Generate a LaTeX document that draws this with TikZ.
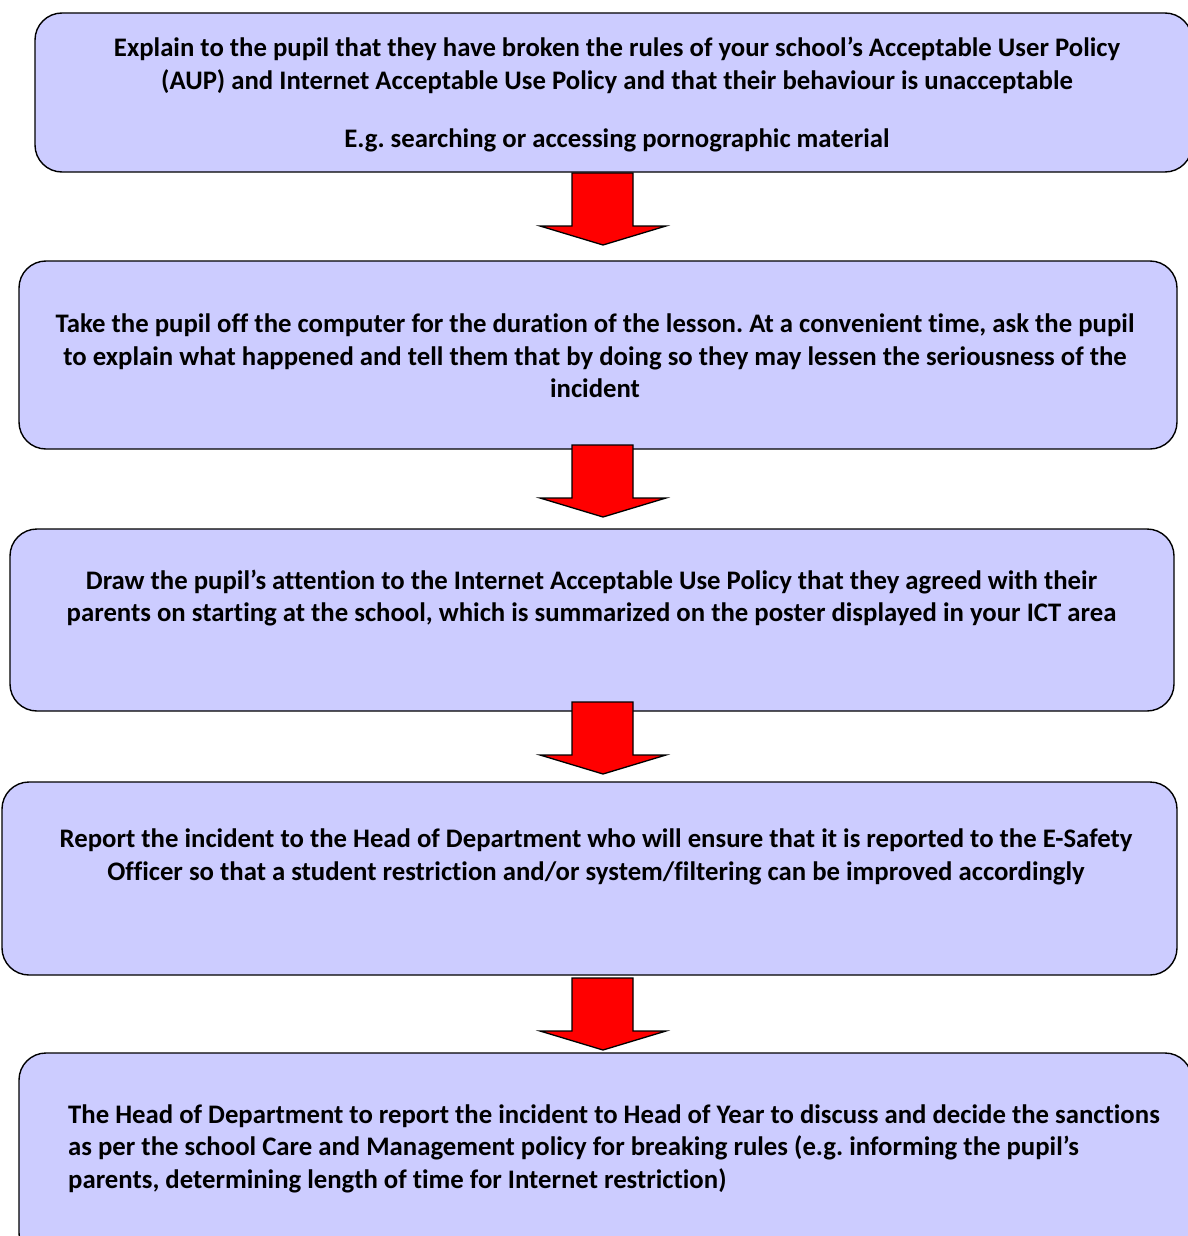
\documentclass[tikz,border=0pt]{standalone}
\usepackage{fontspec}
\setmainfont{Carlito}[Ligatures=NoCommon]
\usepackage{xcolor}
\usetikzlibrary{positioning,calc}
\definecolor{boxblue}{RGB}{204,204,255}
\tikzset{
  stepbox/.style={draw=black, line width=1.4pt, fill=boxblue, rounded corners=27pt, inner sep=0pt},
  steptext/.style={font=\bfseries\fontsize{26.75}{32.5}\selectfont, align=center, inner sep=0pt},
  redarrow/.style={draw=black, fill=red, line width=1.3pt, line join=miter}
}
\frenchspacing

\begin{document}
\begin{tikzpicture}[x=1pt,y=-1pt]
  \useasboundingbox (0,0) rectangle (1187,1236);
  % the five steps
  \node[stepbox, minimum width=1157pt, minimum height=159pt] (b1) at (613.5,92.5) {};
  \node[stepbox, minimum width=1158pt, minimum height=188pt] (b2) at (598,355) {};
  \node[stepbox, minimum width=1164pt, minimum height=182pt] (b3) at (592,620) {};
  \node[stepbox, minimum width=1175pt, minimum height=193pt] (b4) at (589.5,878.5) {};
  \node[stepbox, minimum width=1173pt, minimum height=207pt] (b5) at (605.5,1156.5) {};

  \node[steptext] (t1) at (617,95) {Explain to the pupil that they have broken the rules of your school’s Acceptable User Policy\\
    (AUP) and Internet Acceptable Use Policy and that their behaviour is unacceptable\\[26pt]
    E.g. searching or accessing pornographic material};
  \node[steptext] (t2) at (595,356) {Take the pupil off the computer for the duration of the lesson. At a convenient time, ask the pupil\\
    to explain what happened and tell them that by doing so they may lessen the seriousness of the\\
    incident};
  \node[steptext] (t3) at (591.5,598) {Draw the pupil’s attention to the Internet Acceptable Use Policy that they agreed with their\\
    parents on starting at the school, which is summarized on the poster displayed in your ICT area};
  \node[steptext] (t4) at (596,857) {Report the incident to the Head of Department who will ensure that it is reported to the E-Safety\\
    Officer so that a student restriction and/or system/filtering can be improved accordingly};
  \node[steptext, align=left, anchor=west] (t5) at (68,1148.5) {The Head of Department to report the incident to Head of Year to discuss and decide the sanctions\\
    as per the school Care and Management policy for breaking rules (e.g. informing the pupil’s\\
    parents, determining length of time for Internet restriction)};

  % block arrows between the steps
  \foreach \t [count=\i] in {173,445,702,978}{
    \coordinate (arr\i) at (603,\t);
    \draw[redarrow] (arr\i) ++(-31,0) -- ++(61,0) -- ++(0,53) -- ++(33,0) -- ++(-63,19)
      -- ++(-63,-19) -- ++(32,0) -- cycle;
  }
\end{tikzpicture}
\end{document}
